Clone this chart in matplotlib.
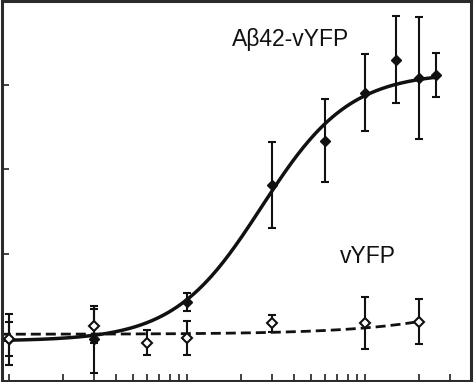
import numpy as np
import matplotlib.pyplot as plt

plt.rcParams['font.family'] = ['Liberation Sans', 'DejaVu Sans']

# Aβ42-vYFP (filled diamonds)
ab_x = [1, 3, 10, 30, 60, 100, 150, 200, 250]
ab_y = [0.99, 0.99, 1.43, 2.82, 3.34, 3.91, 4.30, 4.08, 4.12]
ab_err = [0.30, 0.40, 0.11, 0.51, 0.49, 0.45, 0.51, 0.72, 0.26]

# vYFP (open diamonds)
v_x = [1, 3, 6, 10, 30, 100, 200]
v_y = [0.99, 1.15, 0.95, 1.01, 1.18, 1.18, 1.20]
v_err = [0.20, 0.20, 0.15, 0.20, 0.10, 0.31, 0.27]

# fitted curves: Hill fit for Aβ42-vYFP, linear fit for vYFP
hill_bottom, hill_top, hill_ec50, hill_n = 0.97, 4.15, 26.3, 1.76
lin_a, lin_b = 1.05, 0.00075

fig = plt.figure(figsize=(4.74, 3.82), dpi=100)
ax = fig.add_axes([1.5 / 474, 1.5 / 382, 469.5 / 474, 379.25 / 382])

xs = np.logspace(np.log10(0.9), np.log10(250), 300)
hill = hill_bottom + (hill_top - hill_bottom) / (1 + (hill_ec50 / xs) ** hill_n)
ax.plot(xs, hill, color='#111111', lw=2.5, zorder=2, solid_capstyle='butt')

xl = np.logspace(np.log10(0.9), np.log10(200), 300)
ax.plot(xl, lin_a + lin_b * xl, color='#111111', lw=2.0, dashes=(3.6, 1.8), zorder=2)

ax.errorbar(ab_x, ab_y, yerr=ab_err, fmt='D', ms=5.3, color='#111111',
            mfc='#111111', mec='#111111', elinewidth=1.5, capsize=3,
            capthick=1.5, zorder=3)
ax.errorbar(v_x, v_y, yerr=v_err, fmt='D', ms=5.3, color='#111111',
            mfc='white', mec='#111111', mew=1.5, elinewidth=1.5, capsize=3,
            capthick=1.5, zorder=4)

ax.text(17.9, 4.46, 'Aβ42-vYFP', fontsize=16.5, ha='left', va='baseline', color='#111111')
ax.text(72.4, 1.89, 'vYFP', fontsize=16.5, ha='left', va='baseline', color='#111111')

ax.set_xscale('log')
ax.set_xlim(0.908, 394)
ax.set_ylim(0.503, 4.99)
ax.set_yticks([1, 2, 3, 4])
ax.tick_params(axis='both', which='both', direction='in', labelleft=False,
               labelbottom=False, color='#333333', width=1.3)
ax.tick_params(axis='both', which='major', length=5)
ax.tick_params(axis='x', which='minor', length=5)
for side, sp in ax.spines.items():
    sp.set_color('#2b2b2b')
    sp.set_linewidth(2.2)

fig.savefig('out.png', dpi=100)
